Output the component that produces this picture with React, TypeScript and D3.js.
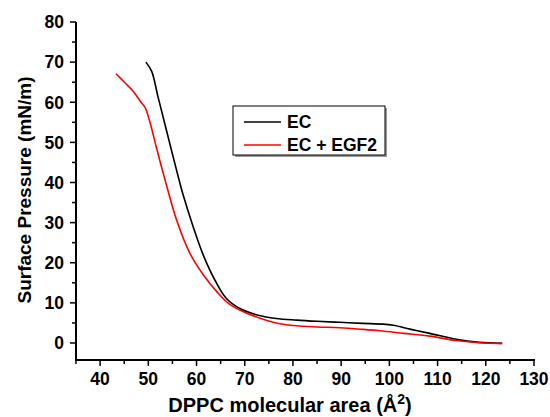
import React, { useEffect, useRef } from "react";
import * as d3 from "d3";

// DPPC molecular area (Å²) vs surface pressure (mN/m)
const ecArea = [49.5, 50.7, 52.0, 54.1, 56.3, 57.2, 59.3, 61.4, 63.8, 66.2, 69.0, 72.8, 76.5, 80.7, 85.0, 89.7, 94.5, 98.7, 100.8, 104.5, 108.4, 113.9, 118.7, 123.4];
const ecPressure = [70.0, 67.7, 61.4, 51.4, 41.0, 37.0, 29.0, 21.9, 15.7, 11.1, 8.6, 6.9, 6.1, 5.7, 5.4, 5.15, 4.9, 4.7, 4.4, 3.4, 2.4, 0.9, 0.15, -0.1];

const egfArea = [43.3, 45.2, 46.9, 48.6, 49.3, 50.3, 51.7, 52.8, 53.8, 55.9, 58.6, 61.4, 64.2, 66.9, 70.4, 73.1, 76.5, 80.7, 85.0, 89.7, 94.5, 98.0, 103.0, 108.4, 113.9, 118.7, 123.4];
const egfPressure = [67.1, 64.8, 62.7, 59.8, 58.8, 55.2, 48.6, 43.6, 39.2, 30.5, 22.4, 17.0, 12.8, 9.6, 7.4, 6.2, 5.0, 4.3, 4.0, 3.8, 3.4, 3.05, 2.4, 1.7, 0.6, 0.05, -0.1];

const xTicks = [40, 50, 60, 70, 80, 90, 100, 110, 120, 130];
const yTicks = [0, 10, 20, 30, 40, 50, 60, 70, 80];

const seriesNames = ["EC", "EC + EGF2"];
const seriesColors = ["#000000", "#ff0000"];

export default function App() {
  const ref = useRef<SVGSVGElement | null>(null);

  useEffect(() => {
    const svg = d3.select(ref.current);
    svg.selectAll("*").remove();

    const font = "'Liberation Sans', Arial, sans-serif";
    const left = 76, right = 534, top = 22, bottom = 360;

    const x = d3.scaleLinear().domain([35, 130]).range([left, right]);
    const y = d3.scaleLinear().domain([-4.24, 80]).range([bottom, top]);

    // X axis
    const xAxis = svg.append("g").attr("transform", `translate(0,${bottom})`);
    xAxis
      .append("line")
      .attr("x1", left - 1)
      .attr("x2", right + 1)
      .attr("stroke", "#000")
      .attr("stroke-width", 2);
    xAxis
      .selectAll(".xmt")
      .data(d3.range(35, 131, 5))
      .join("line")
      .attr("class", "xmt")
      .attr("x1", (d) => x(d))
      .attr("x2", (d) => x(d))
      .attr("y1", 0)
      .attr("y2", (d) => (d % 10 === 0 ? 6 : 4))
      .attr("stroke", "#000")
      .attr("stroke-width", 1.5);
    xAxis
      .selectAll(".xtl")
      .data(xTicks)
      .join("text")
      .attr("class", "xtl")
      .attr("x", (d) => x(d))
      .attr("y", 25)
      .attr("text-anchor", "middle")
      .style("font-family", font)
      .style("font-weight", "bold")
      .style("font-size", "17.5px")
      .text((d) => String(d));

    // Y axis
    const yAxis = svg.append("g").attr("transform", `translate(${left},0)`);
    yAxis
      .append("line")
      .attr("y1", top)
      .attr("y2", bottom + 1)
      .attr("stroke", "#000")
      .attr("stroke-width", 2);
    yAxis
      .selectAll(".ymt")
      .data(d3.range(0, 81, 5))
      .join("line")
      .attr("class", "ymt")
      .attr("y1", (d) => y(d))
      .attr("y2", (d) => y(d))
      .attr("x1", 0)
      .attr("x2", (d) => (d % 10 === 0 ? -6 : -4))
      .attr("stroke", "#000")
      .attr("stroke-width", 1.5);
    yAxis
      .selectAll(".ytl")
      .data(yTicks)
      .join("text")
      .attr("class", "ytl")
      .attr("x", -12)
      .attr("y", (d) => y(d))
      .attr("dy", "0.36em")
      .attr("text-anchor", "end")
      .style("font-family", font)
      .style("font-weight", "bold")
      .style("font-size", "17.5px")
      .text((d) => String(d));

    // Axis titles
    const xt = svg
      .append("text")
      .attr("x", 290)
      .attr("y", 412)
      .attr("text-anchor", "middle")
      .style("font-family", font)
      .style("font-weight", "bold")
      .style("font-size", "20px");
    xt.append("tspan").text("DPPC molecular area (Å");
    xt.append("tspan").attr("dy", -8).style("font-size", "14px").text("2");
    xt.append("tspan").attr("dy", 8).text(")");

    svg
      .append("text")
      .attr("transform", `translate(31,190) rotate(-90)`)
      .attr("text-anchor", "middle")
      .style("font-family", font)
      .style("font-weight", "bold")
      .style("font-size", "19px")
      .text("Surface Pressure (mN/m)");

    // Curves
    const line = d3
      .line<[number, number]>()
      .x((d) => x(d[0]))
      .y((d) => y(d[1]))
      .curve(d3.curveCatmullRom.alpha(0.5));

    const series: [number, number][][] = [
      ecArea.map((a, i) => [a, ecPressure[i]]),
      egfArea.map((a, i) => [a, egfPressure[i]]),
    ];

    svg
      .selectAll(".curve")
      .data(series)
      .join("path")
      .attr("class", "curve")
      .attr("d", (d) => line(d))
      .attr("fill", "none")
      .attr("stroke", (_, i) => seriesColors[i])
      .attr("stroke-width", 1.6);

    // Legend
    const lg = svg.append("g");
    lg.append("rect")
      .attr("x", 235)
      .attr("y", 108)
      .attr("width", 152)
      .attr("height", 49)
      .attr("fill", "#999");
    lg.append("rect")
      .attr("x", 233)
      .attr("y", 106)
      .attr("width", 152)
      .attr("height", 49)
      .attr("fill", "#fff")
      .attr("stroke", "#000")
      .attr("stroke-width", 1);
    seriesNames.forEach((name, i) => {
      const ly = 122 + i * 23;
      lg.append("line")
        .attr("x1", 244)
        .attr("x2", 281)
        .attr("y1", ly)
        .attr("y2", ly)
        .attr("stroke", seriesColors[i])
        .attr("stroke-width", 1.6);
      lg.append("text")
        .attr("x", 287)
        .attr("y", ly)
        .attr("dy", "0.36em")
        .style("font-family", font)
        .style("font-weight", "bold")
        .style("font-size", "17.5px")
        .text(name);
    });
  }, []);

  return <svg ref={ref} width={550} height={417} style={{ position: "absolute", left: 0, top: 0 }} />;
}
